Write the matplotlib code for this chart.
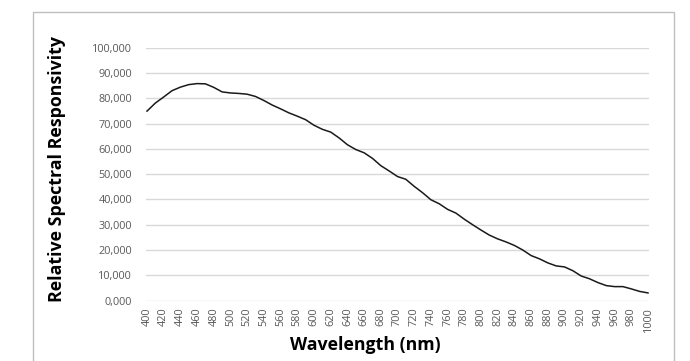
import matplotlib
matplotlib.use("Agg")
import matplotlib.pyplot as plt
from matplotlib.patches import Rectangle
from matplotlib.ticker import FuncFormatter

plt.rcParams['font.family'] = ['Open Sans', 'DejaVu Sans']

# Spectral responsivity sampled every 10 nm
wavelength_nm = list(range(400, 1001, 10))
responsivity = [
    75000, 78200, 80600, 83100, 84500, 85500, 85900, 85800, 84400, 82600,
    82200, 82000, 81700, 80800, 79200, 77400, 75900, 74300, 73000, 71600,
    69400, 67800, 66700, 64400, 61700, 59800, 58500, 56300, 53400, 51300,
    49100, 48000, 45200, 42700, 39900, 38300, 36100, 34600, 32200, 30000,
    27900, 25900, 24400, 23200, 21800, 20000, 17800, 16500, 14900, 13700,
    13300, 11800, 9700, 8600, 7100, 5900, 5500, 5500, 4600, 3600,
    3000,
]
x_ticks = list(range(400, 1001, 20))
y_ticks = list(range(0, 100001, 10000))

W, H = 690, 361
fig = plt.figure(figsize=(W / 100, H / 100), dpi=100)

# chart area border
fig.patches.append(Rectangle((33 / W, -0.1), (674 - 33) / W, (H - 12) / H + 0.1,
                             transform=fig.transFigure, fill=False,
                             edgecolor='#bfbfbf', linewidth=1.0))

left, right = 146 / W, 649 / W
bottom, top = (H - 300.5) / H, (H - 48) / H
ax = fig.add_axes([left, bottom, right - left, top - bottom])

ax.plot(wavelength_nm, responsivity, color='#1a1a1a', linewidth=1.1)

ax.set_xlim(398.8, 1001.2)
ax.set_ylim(0, 100000)
ax.set_xticks(x_ticks)
ax.set_xticklabels([str(v) for v in x_ticks], rotation=90, fontsize=7.8,
                   color='#595959')
ax.set_yticks(y_ticks)
ax.yaxis.set_major_formatter(FuncFormatter(
    lambda v, p: "0,000" if v == 0 else f"{int(v):,}"))
ax.tick_params(axis='y', labelsize=7.8, labelcolor='#595959', length=0, pad=10)
ax.tick_params(axis='x', length=0, pad=5)

ax.grid(axis='y', color='#d9d9d9', linewidth=1.0)
ax.set_axisbelow(True)
for s in ax.spines.values():
    s.set_visible(False)

fig.text(365 / W, 1 - 345 / H, "Wavelength (nm)", ha='center', va='center',
         fontsize=12.8, fontweight='bold', color='#000000')
fig.text(57 / W, 1 - 169 / H, "Relative Spectral Responsivity", ha='center',
         va='center', rotation=90, fontsize=12.8, fontweight='bold',
         color='#000000')

fig.savefig("out.png", dpi=100)
